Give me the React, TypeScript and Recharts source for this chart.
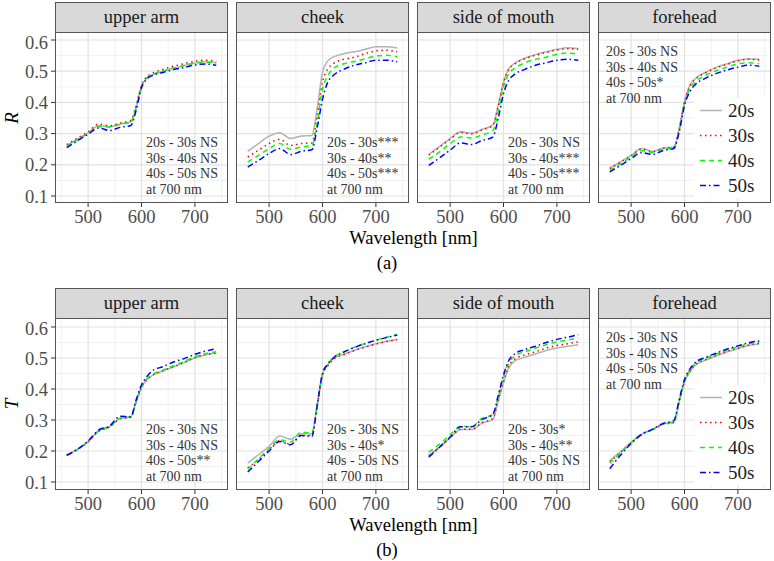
import { LineChart, Line, XAxis, YAxis, CartesianGrid, Legend } from 'recharts'

// wavelengths (nm) at which the curves were read
const WAVELENGTHS = [460, 480, 500, 520, 540, 560, 580, 590, 600, 610, 620, 640, 660, 680, 700, 720, 740]
const AGE_GROUPS = ['20s', '30s', '40s', '50s']
const SITES = ['upper arm', 'cheek', 'side of mouth', 'forehead']
const X_TICKS = [500, 600, 700]
const X_MINOR = [450, 550, 650, 750]
const Y_TICKS = [0.1, 0.2, 0.3, 0.4, 0.5, 0.6]
const Y_MINOR = [0.15, 0.25, 0.35, 0.45, 0.55]

// (a) reflectance R, rows = 20s, 30s, 40s, 50s
const R_UPPER_ARM = [
  [0.262, 0.282, 0.302, 0.325, 0.322, 0.330, 0.338, 0.385, 0.452, 0.478, 0.488, 0.500, 0.510, 0.518, 0.526, 0.530, 0.527],
  [0.265, 0.285, 0.306, 0.330, 0.325, 0.334, 0.342, 0.390, 0.455, 0.482, 0.493, 0.506, 0.516, 0.524, 0.532, 0.535, 0.532],
  [0.260, 0.281, 0.301, 0.323, 0.321, 0.330, 0.337, 0.385, 0.452, 0.478, 0.488, 0.500, 0.510, 0.518, 0.526, 0.529, 0.526],
  [0.255, 0.277, 0.298, 0.318, 0.310, 0.320, 0.326, 0.375, 0.447, 0.475, 0.486, 0.496, 0.505, 0.512, 0.520, 0.523, 0.519],
]
const R_CHEEK = [
  [0.243, 0.268, 0.292, 0.303, 0.284, 0.292, 0.294, 0.380, 0.497, 0.533, 0.545, 0.556, 0.562, 0.570, 0.578, 0.578, 0.574],
  [0.225, 0.247, 0.268, 0.282, 0.262, 0.268, 0.270, 0.356, 0.465, 0.508, 0.524, 0.538, 0.545, 0.556, 0.565, 0.567, 0.562],
  [0.209, 0.230, 0.252, 0.268, 0.250, 0.257, 0.262, 0.335, 0.443, 0.486, 0.508, 0.524, 0.531, 0.540, 0.549, 0.551, 0.546],
  [0.193, 0.214, 0.236, 0.252, 0.233, 0.243, 0.248, 0.318, 0.410, 0.465, 0.486, 0.506, 0.519, 0.527, 0.535, 0.535, 0.530],
]
const R_SIDE_OF_MOUTH = [
  [0.233, 0.258, 0.284, 0.306, 0.301, 0.314, 0.328, 0.390, 0.465, 0.508, 0.524, 0.542, 0.553, 0.562, 0.570, 0.575, 0.573],
  [0.231, 0.256, 0.282, 0.304, 0.299, 0.312, 0.326, 0.388, 0.463, 0.506, 0.522, 0.540, 0.551, 0.560, 0.568, 0.572, 0.570],
  [0.218, 0.241, 0.268, 0.289, 0.286, 0.296, 0.310, 0.369, 0.449, 0.492, 0.508, 0.527, 0.538, 0.545, 0.554, 0.558, 0.554],
  [0.198, 0.222, 0.247, 0.270, 0.265, 0.278, 0.289, 0.348, 0.428, 0.471, 0.489, 0.506, 0.519, 0.527, 0.535, 0.538, 0.535],
]
const R_FOREHEAD = [
  [0.190, 0.209, 0.230, 0.252, 0.243, 0.254, 0.257, 0.316, 0.402, 0.455, 0.476, 0.497, 0.513, 0.524, 0.535, 0.540, 0.538],
  [0.188, 0.208, 0.229, 0.251, 0.242, 0.253, 0.256, 0.314, 0.400, 0.453, 0.474, 0.495, 0.511, 0.522, 0.533, 0.538, 0.536],
  [0.182, 0.203, 0.225, 0.245, 0.240, 0.250, 0.255, 0.310, 0.395, 0.445, 0.465, 0.487, 0.502, 0.513, 0.524, 0.527, 0.524],
  [0.177, 0.198, 0.220, 0.239, 0.233, 0.246, 0.252, 0.305, 0.390, 0.435, 0.457, 0.478, 0.493, 0.504, 0.513, 0.519, 0.516],
]

// (b) transmittance T
const T_UPPER_ARM = [
  [0.187, 0.205, 0.230, 0.265, 0.278, 0.305, 0.310, 0.360, 0.405, 0.430, 0.443, 0.458, 0.471, 0.485, 0.500, 0.510, 0.516],
  [0.187, 0.205, 0.230, 0.264, 0.277, 0.304, 0.309, 0.358, 0.404, 0.430, 0.444, 0.459, 0.472, 0.486, 0.501, 0.511, 0.516],
  [0.186, 0.205, 0.231, 0.266, 0.279, 0.306, 0.311, 0.360, 0.407, 0.433, 0.446, 0.461, 0.475, 0.489, 0.504, 0.514, 0.520],
  [0.186, 0.206, 0.232, 0.268, 0.280, 0.312, 0.310, 0.365, 0.413, 0.440, 0.458, 0.472, 0.487, 0.498, 0.512, 0.522, 0.530],
]
const T_CHEEK = [
  [0.161, 0.188, 0.215, 0.248, 0.238, 0.256, 0.256, 0.350, 0.446, 0.478, 0.497, 0.512, 0.525, 0.536, 0.546, 0.554, 0.560],
  [0.146, 0.172, 0.204, 0.233, 0.222, 0.250, 0.250, 0.345, 0.445, 0.475, 0.495, 0.511, 0.524, 0.535, 0.545, 0.553, 0.559],
  [0.141, 0.175, 0.208, 0.236, 0.229, 0.261, 0.258, 0.350, 0.450, 0.482, 0.501, 0.520, 0.535, 0.547, 0.558, 0.567, 0.575],
  [0.132, 0.166, 0.200, 0.231, 0.220, 0.250, 0.247, 0.345, 0.450, 0.480, 0.500, 0.519, 0.534, 0.546, 0.557, 0.566, 0.574],
]
const T_SIDE_OF_MOUTH = [
  [0.186, 0.212, 0.242, 0.269, 0.269, 0.290, 0.301, 0.360, 0.419, 0.468, 0.489, 0.502, 0.513, 0.524, 0.532, 0.538, 0.543],
  [0.185, 0.212, 0.243, 0.270, 0.270, 0.292, 0.305, 0.365, 0.425, 0.475, 0.495, 0.510, 0.520, 0.532, 0.540, 0.546, 0.552],
  [0.196, 0.222, 0.252, 0.280, 0.278, 0.306, 0.317, 0.375, 0.440, 0.485, 0.505, 0.520, 0.532, 0.543, 0.552, 0.558, 0.565],
  [0.180, 0.212, 0.245, 0.278, 0.278, 0.302, 0.318, 0.378, 0.445, 0.492, 0.512, 0.527, 0.538, 0.550, 0.560, 0.567, 0.575],
]
const T_FOREHEAD = [
  [0.169, 0.198, 0.228, 0.254, 0.269, 0.287, 0.292, 0.358, 0.422, 0.455, 0.476, 0.493, 0.507, 0.520, 0.530, 0.540, 0.545],
  [0.166, 0.194, 0.226, 0.253, 0.269, 0.286, 0.292, 0.358, 0.424, 0.457, 0.478, 0.495, 0.509, 0.522, 0.532, 0.542, 0.548],
  [0.161, 0.193, 0.227, 0.255, 0.270, 0.288, 0.295, 0.362, 0.428, 0.461, 0.482, 0.499, 0.513, 0.526, 0.536, 0.546, 0.552],
  [0.143, 0.186, 0.224, 0.254, 0.270, 0.289, 0.298, 0.365, 0.430, 0.464, 0.485, 0.502, 0.516, 0.529, 0.539, 0.549, 0.555],
]

const R_NOTES = [
  ['20s - 30s NS', '30s - 40s NS', '40s - 50s NS', 'at 700 nm'],
  ['20s - 30s***', '30s - 40s**', '40s - 50s***', 'at 700 nm'],
  ['20s - 30s NS', '30s - 40s***', '40s - 50s***', 'at 700 nm'],
  ['20s - 30s NS', '30s - 40s NS', '40s - 50s*', 'at 700 nm'],
]
const T_NOTES = [
  ['20s - 30s NS', '30s - 40s NS', '40s - 50s**', 'at 700 nm'],
  ['20s - 30s NS', '30s - 40s*', '40s - 50s NS', 'at 700 nm'],
  ['20s - 30s*', '30s - 40s**', '40s - 50s NS', 'at 700 nm'],
  ['20s - 30s NS', '30s - 40s NS', '40s - 50s NS', 'at 700 nm'],
]

const SERIES_STYLE = [
  { key: 'a20', color: '#B3B3B3', dash: undefined },
  { key: 'a30', color: '#FF0000', dash: '1.5 3.5' },
  { key: 'a40', color: '#00FF00', dash: '5 4' },
  { key: 'a50', color: '#0000FF', dash: '6 3 1.5 3' },
]

const FONT = "'Liberation Serif', 'DejaVu Serif', 'Times New Roman', Times, serif"
const PANEL_LEFT = [55, 236, 417, 598]
const PANEL_W = 173
const Y_AXIS_W = 55
const X_AXIS_H = 32
const BORDER = '#555555'
const TICK_FILL = '#4D4D4D'

const ROWS = [
  { label: 'R', tag: '(a)', stripTop: 2, plotTop: 32, plotH: 171, domain: [0.0776, 0.6256], data: [R_UPPER_ARM, R_CHEEK, R_SIDE_OF_MOUTH, R_FOREHEAD], notes: R_NOTES },
  { label: 'T', tag: '(b)', stripTop: 288, plotTop: 318, plotH: 172, domain: [0.0742, 0.629], data: [T_UPPER_ARM, T_CHEEK, T_SIDE_OF_MOUTH, T_FOREHEAD], notes: T_NOTES },
]

function LegendBox() {
  return (
    <div style={{ background: '#fff', width: 76, height: 100, fontFamily: FONT }}>
      {AGE_GROUPS.map((g, k) => (
        <div key={g} style={{ height: 25, display: 'flex', alignItems: 'center' }}>
          <svg width={34} height={25}>
            <line x1={6} x2={28} y1={12.5} y2={12.5} stroke={SERIES_STYLE[k].color} strokeWidth={1.5} strokeDasharray={SERIES_STYLE[k].dash} />
          </svg>
          <span style={{ fontSize: 19, color: '#222' }}>{g}</span>
        </div>
      ))}
    </div>
  )
}

function Panel({ row, col }: { row: any; col: number }) {
  const left = PANEL_LEFT[col]
  const showY = col === 0
  const yw = showY ? Y_AXIS_W : 0
  const series = row.data[col]
  const chartData = WAVELENGTHS.map((wl, i) => ({
    wl, a20: series[0][i], a30: series[1][i], a40: series[2][i], a50: series[3][i],
  }))
  const noteLeft = col === 3 ? 8 : 91
  const noteTop = col === 3 ? 12 : row.plotH - 68
  return (
    <>
      <div style={{
        position: 'absolute', left, top: row.stripTop, width: PANEL_W, height: row.plotTop - row.stripTop + 1,
        boxSizing: 'border-box', background: '#D9D9D9', border: `1px solid ${BORDER}`,
        display: 'flex', alignItems: 'center', justifyContent: 'center',
        fontFamily: FONT, fontSize: 18.5, color: '#1A1A1A',
      }}>{SITES[col]}</div>
      <div style={{ position: 'absolute', left: left - yw, top: row.plotTop }}>
        <LineChart width={PANEL_W + yw} height={row.plotH + X_AXIS_H} data={chartData} margin={{ top: 0, right: 0, bottom: 0, left: 0 }}>
          <CartesianGrid verticalValues={X_MINOR} horizontalValues={Y_MINOR} stroke="#EEEEEE" strokeWidth={0.8} />
          <CartesianGrid verticalValues={X_TICKS} horizontalValues={Y_TICKS} stroke="#E2E2E2" strokeWidth={1.2} />
          <XAxis
            dataKey="wl" type="number" domain={[438, 762]} ticks={X_TICKS} allowDataOverflow
            height={X_AXIS_H} axisLine={false} tickSize={4} tickMargin={3}
            tickLine={{ stroke: '#333' }}
            tick={{ fill: TICK_FILL, fontSize: 18.5, fontFamily: FONT }}
          />
          <YAxis
            type="number" domain={row.domain} ticks={Y_TICKS} allowDataOverflow hide={!showY}
            width={yw} axisLine={false} tickSize={4} tickMargin={3}
            tickLine={{ stroke: '#333' }}
            tickFormatter={(v: number) => v.toFixed(1)}
            tick={{ fill: TICK_FILL, fontSize: 18.5, fontFamily: FONT }}
          />
          {SERIES_STYLE.map((s, k) => (
            <Line
              key={s.key} dataKey={s.key} name={AGE_GROUPS[k]} type="monotone"
              stroke={s.color} strokeWidth={1.5} strokeDasharray={s.dash}
              dot={false} activeDot={false} isAnimationActive={false}
            />
          ))}
          {col === 3 && (
            <Legend
              layout="vertical" align="center" verticalAlign="middle"
              content={() => <LegendBox />}
              wrapperStyle={{ position: 'absolute', left: 96, top: row.plotH - 105, width: 76, height: 100 }}
            />
          )}
        </LineChart>
      </div>
      <div style={{
        position: 'absolute', left, top: row.plotTop, width: PANEL_W, height: row.plotH,
        boxSizing: 'border-box', border: `1px solid ${BORDER}`, pointerEvents: 'none',
      }} />
      <div style={{
        position: 'absolute', left: left + noteLeft, top: row.plotTop + noteTop,
        fontFamily: FONT, fontSize: 14, lineHeight: '15.5px', color: '#333', whiteSpace: 'nowrap',
      }}>
        {row.notes[col].map((t: string) => <div key={t}>{t}</div>)}
      </div>
    </>
  )
}

export default function App() {
  return (
    <div style={{ position: 'fixed', left: 0, top: 0, width: 774, height: 561, background: '#fff', overflow: 'hidden' }}>
      {ROWS.map(row => (
        <div key={row.label}>
          {SITES.map((_, c) => <Panel key={c} row={row} col={c} />)}
          <div style={{
            position: 'absolute', left: 2, top: row.plotTop + row.plotH / 2 - 12, width: 20, height: 24,
            transform: 'rotate(-90deg)', fontFamily: FONT, fontStyle: 'italic', fontSize: 19,
            textAlign: 'center', lineHeight: '24px', color: '#000',
          }}>{row.label}</div>
          <div style={{
            position: 'absolute', left: 55, width: 717, top: row.plotTop + row.plotH + 24,
            textAlign: 'center', fontFamily: FONT, fontSize: 18.5, lineHeight: '22px', color: '#000',
          }}>Wavelength [nm]</div>
          <div style={{
            position: 'absolute', left: 0, width: 774, top: row.plotTop + row.plotH + 49,
            textAlign: 'center', fontFamily: FONT, fontSize: 18.5, lineHeight: '22px', color: '#000',
          }}>{row.tag}</div>
        </div>
      ))}
    </div>
  )
}
